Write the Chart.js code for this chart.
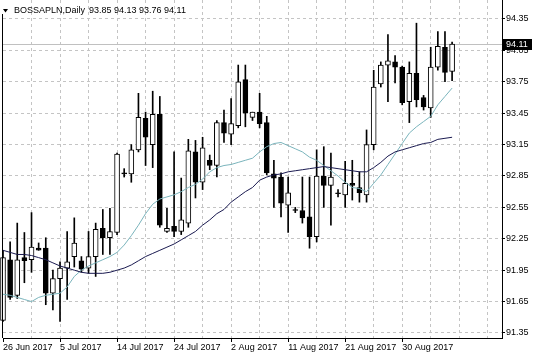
<!DOCTYPE html>
<html>
<head>
<meta charset="utf-8">
<script src="https://cdn.jsdelivr.net/npm/chart.js@4"></script>
<style>
html,body{margin:0;padding:0;background:#fff;}
</style>
</head>
<body>
<canvas id="grafico" width="536" height="357"></canvas>
<script>
const simbolo = "BOSSAPLN,Daily";

const dates = [
"26 Jun 2017","27 Jun 2017","28 Jun 2017","29 Jun 2017","30 Jun 2017","2 Jul 2017","3 Jul 2017","4 Jul 2017",
"5 Jul 2017","6 Jul 2017","7 Jul 2017","9 Jul 2017","10 Jul 2017","11 Jul 2017","12 Jul 2017","13 Jul 2017",
"14 Jul 2017","16 Jul 2017","17 Jul 2017","18 Jul 2017","19 Jul 2017","20 Jul 2017","21 Jul 2017","23 Jul 2017",
"24 Jul 2017","25 Jul 2017","26 Jul 2017","27 Jul 2017","28 Jul 2017","30 Jul 2017","31 Jul 2017","1 Aug 2017",
"2 Aug 2017","3 Aug 2017","4 Aug 2017","6 Aug 2017","7 Aug 2017","8 Aug 2017","9 Aug 2017","10 Aug 2017",
"11 Aug 2017","13 Aug 2017","14 Aug 2017","15 Aug 2017","16 Aug 2017","17 Aug 2017","18 Aug 2017","20 Aug 2017",
"21 Aug 2017","22 Aug 2017","23 Aug 2017","24 Aug 2017","25 Aug 2017","27 Aug 2017","28 Aug 2017","29 Aug 2017",
"30 Aug 2017","31 Aug 2017","1 Sep 2017","3 Sep 2017","4 Sep 2017","5 Sep 2017","6 Sep 2017","7 Sep 2017"
];

const open = [
91.47,92.05,91.71,92.07,92.05,92.16,92.16,91.73,91.87,91.97,
92.08,92.04,91.97,92.08,92.35,92.26,92.31,92.88,92.87,93.10,
93.40,93.15,93.44,92.32,92.37,92.32,92.40,93.08,92.79,93.00,
92.95,93.36,93.25,93.33,93.77,93.41,93.46,93.36,92.87,92.84,
92.57,92.53,92.52,92.46,92.27,92.85,92.76,92.69,92.67,92.78,
92.74,92.67,93.15,93.73,93.91,93.94,93.89,93.56,93.83,93.60,
93.50,93.89,94.08,93.85
];

const high = [
92.14,92.22,92.40,92.31,92.50,92.21,92.26,91.95,92.03,92.32,
92.45,92.08,92.32,92.40,92.53,92.54,93.07,92.92,93.15,93.64,
93.46,93.66,93.61,92.54,93.08,92.83,93.20,93.19,93.22,93.05,
93.38,93.48,93.59,93.91,93.91,93.46,93.64,93.42,93.00,92.88,
92.84,92.55,92.84,92.84,93.10,93.13,93.07,92.72,92.99,93.00,
92.89,93.29,93.86,93.94,94.20,94.00,93.90,93.94,94.31,93.62,
94.08,94.23,94.23,94.13
];

const low = [
91.46,91.67,91.68,91.83,91.93,92.14,91.62,91.57,91.46,91.67,
91.98,91.93,91.92,91.89,92.10,92.10,92.29,92.84,92.79,93.08,
92.95,92.93,92.36,92.31,92.27,92.29,92.36,92.64,92.72,92.91,
92.84,93.17,93.15,93.31,93.32,93.38,93.31,92.86,92.55,92.46,
92.31,92.50,92.40,92.16,92.22,92.55,92.38,92.65,92.55,92.62,
92.60,92.60,93.10,93.70,93.56,93.74,93.53,93.36,93.51,93.48,
93.41,93.86,93.75,93.76
];

const close = [
92.07,91.69,92.05,92.04,92.17,92.14,91.73,91.87,91.97,92.03,
92.21,91.96,92.08,92.34,92.26,92.32,93.06,92.87,93.10,93.41,
93.22,93.44,92.38,92.35,92.32,92.43,93.09,92.79,93.12,92.95,
93.36,93.26,93.35,93.75,93.45,93.46,93.35,92.88,92.83,92.59,
92.69,92.52,92.45,92.27,92.85,92.76,92.84,92.68,92.78,92.76,
92.69,93.15,93.70,93.91,93.95,93.89,93.55,93.83,93.58,93.51,
93.89,94.09,93.84,94.11
];

// media rapida (azul claro)
const maFast = [
91.72,91.71,91.69,91.67,91.65,91.69,91.71,91.72,91.73,91.79,
91.89,91.95,91.99,92.02,92.05,92.08,92.12,92.19,92.28,92.38,
92.49,92.58,92.63,92.65,92.67,92.70,92.74,92.77,92.82,92.89,
92.93,92.95,92.96,92.98,93.00,93.02,93.08,93.13,93.16,93.17,
93.14,93.11,93.08,93.03,93.00,92.95,92.90,92.85,92.79,92.74,
92.73,92.70,92.78,92.86,92.96,93.06,93.16,93.26,93.32,93.37,
93.42,93.53,93.61,93.69
];

// media lenta (azul escuro)
const maSlow = [
92.14,92.12,92.10,92.10,92.09,92.07,92.05,92.02,91.99,91.97,
91.95,91.93,91.92,91.92,91.92,91.93,91.95,91.97,92.00,92.04,
92.08,92.11,92.14,92.17,92.20,92.24,92.28,92.32,92.38,92.43,
92.49,92.53,92.60,92.65,92.70,92.74,92.81,92.84,92.86,92.87,
92.89,92.90,92.91,92.92,92.93,92.94,92.93,92.92,92.91,92.90,
92.89,92.89,92.93,92.98,93.04,93.08,93.10,93.12,93.14,93.16,
93.17,93.20,93.21,93.22
];

const yTicks = [91.35,91.65,91.95,92.25,92.55,92.85,93.15,93.45,93.75,94.05,94.35];

const totalSlots = 71;
const labels = dates.concat(Array(totalSlots - dates.length).fill(""));

const fonte = "'Liberation Sans', Arial, sans-serif";
Chart.defaults.font.family = fonte;
Chart.defaults.font.size = 9;
Chart.defaults.color = "#000";

const gridCor = "#c4c4c4";

const moldura = {
  id: "moldura",
  beforeDatasetsDraw(chart) {
    const {ctx, chartArea: a, scales} = chart;
    const yb = Math.round(scales.y.getPixelForValue(close[close.length - 1])) + 0.5;
    ctx.save();
    ctx.strokeStyle = "#c0c0c0";
    ctx.lineWidth = 1;
    ctx.beginPath();
    ctx.moveTo(a.left, yb);
    ctx.lineTo(a.right, yb);
    ctx.stroke();
    ctx.restore();
  },
  afterDraw(chart) {
    const {ctx, chartArea: a, scales} = chart;
    ctx.save();

    ctx.strokeStyle = "#000";
    ctx.lineWidth = 1;
    ctx.beginPath();
    ctx.moveTo(a.left - 0.5, 14);
    ctx.lineTo(a.left - 0.5, a.bottom);
    ctx.stroke();

    const ultimo = close[close.length - 1];
    const yb = Math.round(scales.y.getPixelForValue(ultimo));
    ctx.fillStyle = "#000";
    ctx.fillRect(a.right + 1, yb - 5, 29, 11);
    ctx.fillStyle = "#fff";
    ctx.font = "9px " + fonte;
    ctx.textBaseline = "middle";
    ctx.textAlign = "left";
    ctx.fillText(ultimo.toFixed(2), a.right + 4, yb + 0.5);

    ctx.fillStyle = "#000";
    ctx.beginPath();
    ctx.moveTo(3, 9);
    ctx.lineTo(8, 9);
    ctx.lineTo(5.5, 12.5);
    ctx.closePath();
    ctx.fill();

    const n = open.length - 1;
    ctx.textBaseline = "alphabetic";
    ctx.fillText(simbolo, 14, 13);
    ctx.fillText([open[n], high[n], low[n], close[n]].map(v => v.toFixed(2)).join(" "), 89, 13);
    ctx.restore();
  }
};

const ctx = document.getElementById("grafico");

new Chart(ctx, {
  type: "bar",
  data: {
    labels: labels,
    datasets: [
      {
        label: "sombra",
        data: low.map((l, i) => [l, high[i]]),
        backgroundColor: "#000",
        barThickness: 1,
        grouped: false,
        clip: false,
        order: 4
      },
      {
        label: "corpo",
        data: open.map((o, i) => [o, close[i]]),
        backgroundColor: open.map((o, i) => close[i] >= o ? "#fff" : "#000"),
        borderColor: "#000",
        borderWidth: 1,
        borderSkipped: false,
        barThickness: 5,
        minBarLength: 1,
        grouped: false,
        clip: false,
        order: 3
      },
      {
        type: "line",
        label: "MA rapida",
        data: maFast,
        borderColor: "#7ab4bc",
        borderWidth: 1,
        pointRadius: 0,
        tension: 0,
        order: 2
      },
      {
        type: "line",
        label: "MA lenta",
        data: maSlow,
        borderColor: "#1a1a50",
        borderWidth: 1,
        pointRadius: 0,
        tension: 0,
        order: 1
      }
    ]
  },
  options: {
    responsive: false,
    animation: false,
    devicePixelRatio: 1,
    layout: {padding: {left: 3, top: 0, right: 0, bottom: 0}},
    plugins: {legend: {display: false}, tooltip: {enabled: false}},
    scales: {
      x: {
        offset: false,
        afterFit: s => { s.height = 19; s.paddingLeft = 0; s.paddingRight = 0; },
        ticks: {
          autoSkip: false,
          maxRotation: 0,
          minRotation: 0,
          align: "start",
          padding: 0,
          callback: function (v, i) { return i % 8 === 0 ? this.getLabelForValue(v) : ""; }
        },
        grid: {
          offset: false,
          color: c => (c.index % 4 === 0 && c.index > 0) ? gridCor : "transparent",
          tickColor: c => (c.index % 8 === 0 && c.index < dates.length) ? "#000" : "transparent",
          tickLength: 4
        },
        border: {color: "#000", dash: [3, 3]}
      },
      y: {
        position: "right",
        bounds: "data",
        min: 91.302,
        max: 94.5315,
        afterBuildTicks: s => { s.ticks = yTicks.map(v => ({value: v})); },
        afterFit: s => { s.width = 34; s.paddingTop = 0; s.paddingBottom = 0; },
        ticks: {padding: 1, callback: v => v.toFixed(2)},
        grid: {color: gridCor, tickColor: "#000", tickLength: 3},
        border: {color: "#000", dash: [3, 3]}
      }
    }
  },
  plugins: [moldura]
});
</script>
</body>
</html>
